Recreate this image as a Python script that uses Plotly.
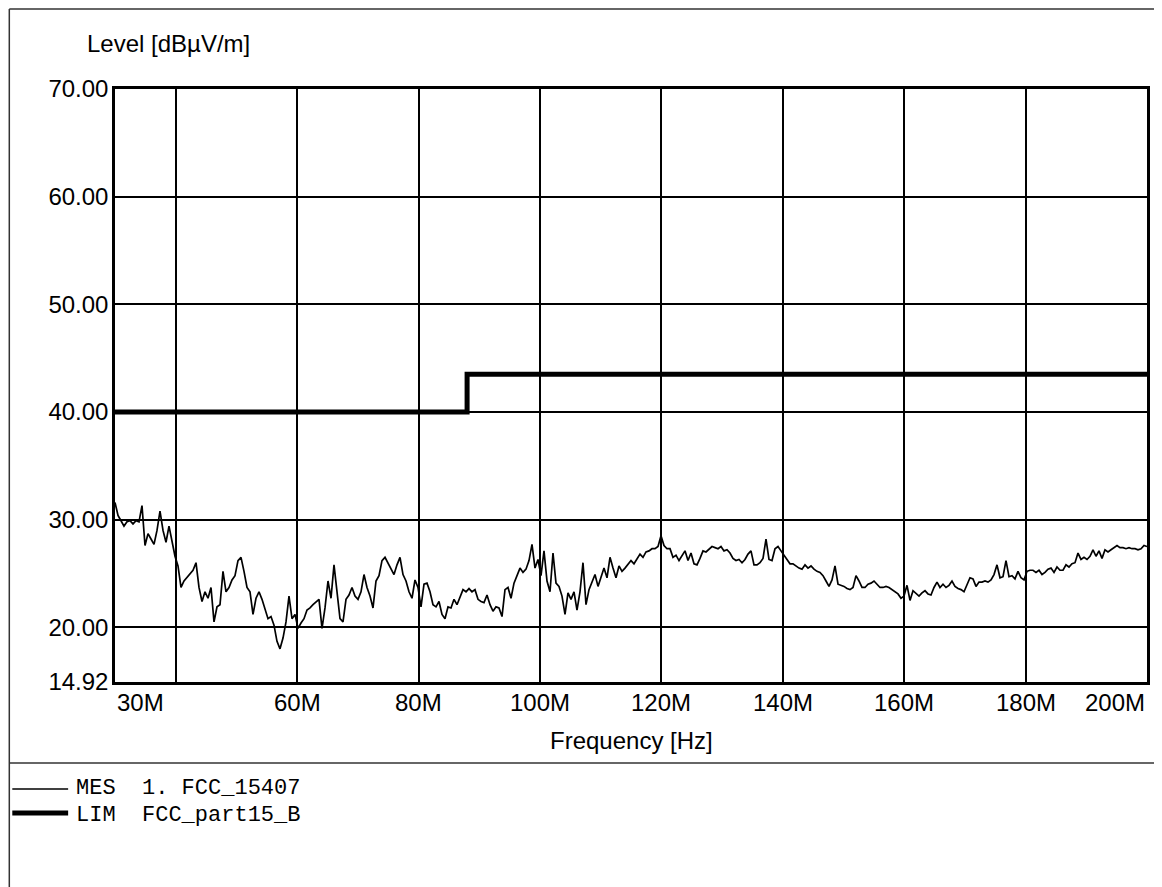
import numpy as np
import plotly.graph_objects as go

# ---------------- data ----------------
# Measured level (dBuV/m), equally spaced sweep points from 30 MHz to 200 MHz
mes_level_30_65 = [
    31.6, 30.4, 29.9, 29.4, 29.8, 29.9, 29.6, 29.9, 29.8, 31.3,
    27.6, 28.7, 28.2, 27.7, 29.0, 30.8, 29.0, 27.9, 29.4, 27.9,
    26.6, 25.7, 23.7, 24.3, 24.6, 24.9, 25.3, 26.0, 23.7, 22.4,
    23.3, 22.7, 23.7, 20.5, 21.9, 22.1, 25.2, 23.3, 23.7, 24.4,
    24.8, 26.2, 26.5, 25.2, 23.7, 23.3, 21.2, 22.7, 23.3, 22.6,
    21.6, 20.8, 21.0, 20.2, 18.7, 18.0, 19.0, 20.5, 22.9, 20.8,
    21.2, 19.9, 20.4, 20.8, 21.6, 21.8, 22.1, 22.4, 22.6,
]
mes_level_65_99 = [
    19.9, 21.8, 24.3, 22.7, 25.8, 23.3, 20.8, 20.5, 22.6, 23.0,
    23.7, 22.9, 22.6, 23.3, 24.9, 23.7, 22.9, 21.8, 24.3, 24.8,
    26.2, 26.5, 26.0, 25.4, 24.9, 25.8, 26.5, 24.9, 24.3, 23.3,
    22.7, 24.4, 23.7, 21.9, 24.0, 24.1, 23.3, 22.1, 21.9, 22.4,
    21.2, 20.8, 21.9, 21.8, 22.6, 22.1, 22.9, 23.5, 23.3, 23.6,
    23.3, 23.5, 22.6, 22.4, 22.3, 23.0, 22.1, 21.5, 21.9, 21.8,
    21.0, 23.5, 23.7, 22.7, 24.1, 24.9, 25.5, 25.1, 25.4, 26.2,
]
mes_level_99_133 = [
    27.7, 25.5, 26.3, 24.8, 27.1, 24.3, 23.3, 26.9, 24.1, 23.8,
    22.9, 21.2, 23.2, 22.6, 23.3, 21.6, 23.3, 26.0, 22.1, 23.5,
    24.3, 24.9, 23.8, 24.6, 25.5, 24.6, 26.5, 25.5, 24.6, 25.7,
    25.2, 25.5, 25.8, 26.2, 25.9, 26.3, 26.8, 26.5, 27.0, 27.1,
    27.3, 27.3, 27.5, 28.5, 27.6, 27.3, 27.3, 26.5, 26.7, 26.2,
    26.7, 27.1, 26.2, 26.9, 25.9, 25.8, 26.4, 27.1, 27.0, 27.3,
    27.5, 27.4, 27.3, 27.5, 27.1, 27.2, 26.9, 26.4, 26.2, 26.3,
]
mes_level_133_167 = [
    26.0, 26.3, 26.8, 27.1, 25.8, 25.8, 26.0, 26.4, 28.2, 26.3,
    26.2, 27.3, 27.5, 27.1, 26.7, 26.4, 25.9, 25.9, 25.7, 25.5,
    25.4, 25.8, 25.5, 25.7, 25.4, 25.2, 25.1, 24.8, 24.3, 23.8,
    24.4, 25.7, 24.0, 23.9, 23.8, 23.6, 23.5, 23.7, 24.8, 24.3,
    23.7, 23.7, 24.0, 24.1, 24.3, 24.0, 23.7, 23.7, 23.8, 23.7,
    23.5, 23.3, 23.1, 22.7, 22.9, 23.9, 22.5, 23.4, 23.1, 22.9,
    23.2, 23.4, 23.1, 23.0, 23.7, 24.2, 23.7, 24.0, 23.7, 23.9,
]
mes_level_167_200 = [
    24.3, 23.8, 23.6, 23.5, 23.3, 24.0, 24.6, 24.5, 23.8, 24.2,
    24.2, 24.3, 24.2, 24.4, 24.9, 25.8, 24.6, 24.7, 26.2, 24.7,
    24.8, 24.5, 25.2, 24.6, 24.4, 25.2, 25.3, 25.3, 25.1, 25.3,
    24.9, 25.1, 25.4, 25.5, 25.1, 25.6, 25.3, 25.3, 25.8, 25.6,
    25.9, 26.0, 26.9, 26.3, 26.5, 26.3, 26.6, 27.2, 26.6, 27.1,
    26.4, 27.2, 27.0, 27.2, 27.4, 27.6, 27.4, 27.4, 27.3, 27.4,
    27.3, 27.3, 27.2, 27.3, 27.6, 27.5,
]
mes_level = (mes_level_30_65 + mes_level_65_99 + mes_level_99_133
             + mes_level_133_167 + mes_level_167_200)

freq_start_mhz = 30
freq_stop_mhz = 200
mes_freq = np.linspace(freq_start_mhz, freq_stop_mhz, len(mes_level))

# FCC part 15 class B limit
lim_freq = [30, 88, 88, 200]
lim_level = [40.0, 40.0, 43.5, 43.5]

y_min, y_max = 14.92, 70.0
y_tick_vals = [14.92, 20, 30, 40, 50, 60, 70]
y_tick_text = ["14.92", "20.00", "30.00", "40.00", "50.00", "60.00", "70.00"]
x_grid_vals = [40, 60, 80, 100, 120, 140, 160, 180]
x_label_vals = [30, 60, 80, 100, 120, 140, 160, 180, 200]
x_label_text = ["30M", "60M", "80M", "100M", "120M", "140M", "160M", "180M", "200M"]

legend_rows = [
    ("MES\u00a0\u00a01.\u00a0FCC_15407", 1.5),
    ("LIM\u00a0\u00a0FCC_part15_B", 5),
]

# ---------------- layout geometry ----------------
# page is rendered with an 8px body margin, so the figure is 8px smaller
W, H = 1154, 879
ML, MT = 107, 81
PW, PH = 1035, 593
MR, MB = W - ML - PW, H - MT - PH
PLOT_LEFT_PAGE, PLOT_BOTTOM_PAGE = 115, 682


def px(x_page):
    return (x_page - PLOT_LEFT_PAGE) / PW


def py(y_page):
    return (PLOT_BOTTOM_PAGE - y_page) / PH


SANS = "Arial, Liberation Sans, sans-serif"
MONO = "Courier New, Liberation Mono, monospace"

fig = go.Figure()
fig.add_trace(go.Scatter(x=mes_freq, y=mes_level, mode="lines", name="MES 1. FCC_15407",
                         line=dict(color="black", width=1.7), showlegend=False))
fig.add_trace(go.Scatter(x=lim_freq, y=lim_level, mode="lines", name="LIM FCC_part15_B",
                         line=dict(color="black", width=5), showlegend=False))

shapes = []
line_col = "#333"
# outer frame pieces
shapes.append(dict(type="line", xref="paper", yref="paper", x0=px(9), x1=px(1170), y0=py(9), y1=py(9),
                   line=dict(color=line_col, width=1.5)))
shapes.append(dict(type="line", xref="paper", yref="paper", x0=px(9), x1=px(9), y0=py(9), y1=py(900),
                   line=dict(color=line_col, width=1.5)))
shapes.append(dict(type="line", xref="paper", yref="paper", x0=px(9), x1=px(1170), y0=py(763), y1=py(763),
                   line=dict(color=line_col, width=1.5)))

annotations = []
annotations.append(dict(text="Level [dBµV/m]", xref="paper", yref="paper", x=px(85), y=py(43),
                        xanchor="left", yanchor="middle", showarrow=False,
                        font=dict(family=SANS, size=24, color="black")))
annotations.append(dict(text="Frequency [Hz]", xref="paper", yref="paper", x=px(633), y=py(740),
                        xanchor="center", yanchor="middle", showarrow=False,
                        font=dict(family=SANS, size=24, color="black")))
for i, (xv, txt) in enumerate(zip(x_label_vals, x_label_text)):
    anc = "left" if i == 0 else ("right" if i == len(x_label_vals) - 1 else "center")
    annotations.append(dict(text=txt, xref="x", yref="paper", x=xv, y=py(702),
                            xanchor=anc, yanchor="middle", showarrow=False,
                            font=dict(family=SANS, size=24, color="black")))

line_rows_y = [789, 813]
text_rows_y = [788.5, 815]
for (txt, lw), ly, ty in zip(legend_rows, line_rows_y, text_rows_y):
    shapes.append(dict(type="line", xref="paper", yref="paper", x0=px(12), x1=px(68), y0=py(ly), y1=py(ly),
                       line=dict(color="black", width=lw)))
    annotations.append(dict(text=txt, xref="paper", yref="paper", x=px(75), y=py(ty),
                            xanchor="left", yanchor="middle", showarrow=False, borderpad=0,
                            font=dict(family=MONO, size=22, color="black")))

fig.update_layout(
    width=W, height=H,
    margin=dict(l=ML, r=MR, t=MT, b=MB, pad=0),
    paper_bgcolor="white", plot_bgcolor="white",
    shapes=shapes, annotations=annotations,
    showlegend=False,
    xaxis=dict(range=[freq_start_mhz, freq_stop_mhz], tickmode="array",
               tickvals=x_grid_vals, showticklabels=False,
               showgrid=True, gridcolor="black", gridwidth=2,
               showline=True, mirror=True, linecolor="black", linewidth=2.5,
               zeroline=False, ticks=""),
    yaxis=dict(range=[y_min, y_max], tickmode="array",
               tickvals=y_tick_vals, ticktext=y_tick_text,
               showgrid=True, gridcolor="black", gridwidth=2,
               showline=True, mirror=True, linecolor="black", linewidth=2.5,
               zeroline=False, ticks="", ticklabelstandoff=-1,
               tickfont=dict(family=SANS, size=24, color="black")),
)

fig.write_html("out.html")
